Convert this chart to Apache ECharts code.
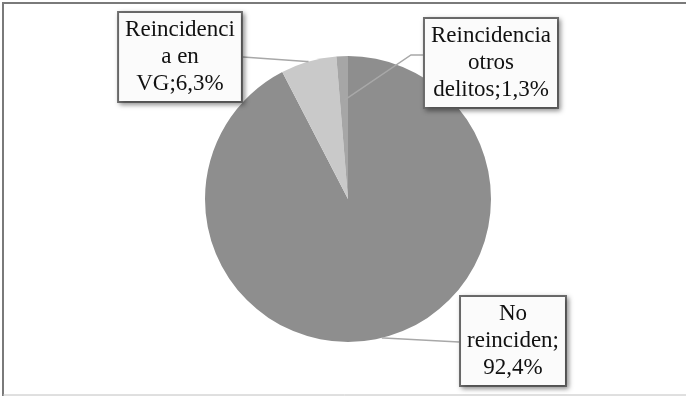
<!DOCTYPE html>
<html lang="es">
<head>
    <meta charset="UTF-8">
    <title>Reincidencia</title>
    <script src="https://cdn.jsdelivr.net/npm/echarts@6/dist/echarts.min.js"></script>
    <style>
        html, body { margin: 0; padding: 0; background: #fff; }
        #chart { width: 686px; height: 396px; }
    </style>
</head>
<body>
    <div id="chart"></div>
    <script>
        var categories = ['No reinciden', 'Reincidencia en VG', 'Reincidencia otros delitos'];
        var values = [92.4, 6.3, 1.3];
        var colors = ['#8e8e8e', '#c9c9c9', '#a6a6a6'];
        // text of each label as it is wrapped in the picture
        var labelTexts = [
            'No\nreinciden;\n92,4%',
            'Reincidenci\na en\nVG;6,3%',
            'Reincidencia\notros\ndelitos;1,3%'
        ];
        // where each label box sits (centre)
        var labelPos = [[513, 341], [180, 57], [491, 63]];

        var cx = 348, cy = 199, R = 143;

        var mychart = echarts.init(document.getElementById('chart'));

        var total = 0;
        for (var i = 0; i < values.length; i++) total += values[i];

        // point on a slice where its leader line starts (angle from data)
        function anchor(idx, r) {
            var start = 0;
            for (var k = 0; k < idx; k++) start += values[k];
            var mid = (start + values[idx] / 2) / total * 360;
            var a = (90 - mid) * Math.PI / 180;
            return [cx + r * Math.cos(a), cy - r * Math.sin(a)];
        }

        var slices = [], labelled = [];
        for (var i = 0; i < categories.length; i++) {
            slices.push({
                name: categories[i],
                value: values[i],
                itemStyle: { color: colors[i] }
            });
            labelled.push({
                name: categories[i],
                value: values[i],
                label: { formatter: labelTexts[i] }
            });
        }

        var option = {
            animation: false,
            graphic: [
                {
                    type: 'polyline',
                    shape: { points: [[3, 396], [3, 3], [686, 3]] },
                    style: { stroke: '#7a7a7a', lineWidth: 2, fill: null }
                },
                {
                    type: 'line',
                    shape: { x1: 3, y1: 395, x2: 686, y2: 395 },
                    style: { stroke: '#c0c0c0', lineWidth: 1 }
                }
            ],
            series: [{
                // the slices
                type: 'pie',
                z: 2,
                center: [cx, cy],
                radius: R,
                startAngle: 90,
                clockwise: true,
                silent: true,
                data: slices,
                label: { show: false },
                labelLine: { show: false }
            }, {
                // same pie, transparent, carrying labels and leader lines on top
                type: 'pie',
                z: 5,
                center: [cx, cy],
                radius: R,
                startAngle: 90,
                clockwise: true,
                silent: true,
                data: labelled,
                itemStyle: { color: 'rgba(0,0,0,0)' },
                label: {
                    show: true,
                    position: 'outside',
                    fontFamily: 'Liberation Serif',
                    fontSize: 23,
                    lineHeight: 27,
                    color: '#111',
                    align: 'center',
                    backgroundColor: '#fbfbfb',
                    borderColor: '#6e6e6e',
                    borderWidth: 2,
                    padding: [4, 6, 3, 6],
                    shadowColor: 'rgba(0,0,0,0.35)',
                    shadowBlur: 5,
                    shadowOffsetX: 2,
                    shadowOffsetY: 2
                },
                labelLine: {
                    show: true,
                    length: 20,
                    length2: 20,
                    lineStyle: { color: '#a8a8a8', width: 1.5 }
                },
                labelLayout: function (params) {
                    var i = params.dataIndex;
                    var p = labelPos[i];
                    var w = params.labelRect.width;
                    var pts;
                    if (i === 0) {
                        var a0 = anchor(0, R);
                        var e0 = [p[0] - w / 2, p[1] + 1];
                        pts = [a0, [a0[0] + 2, a0[1]], e0];
                    } else if (i === 1) {
                        var a1 = anchor(1, R);
                        var e1 = [p[0] + w / 2, p[1]];
                        pts = [a1, [a1[0] - 2, a1[1]], e1];
                    } else {
                        var a2 = anchor(2, R * 0.69);
                        var e2 = [p[0] - w / 2, p[1] - 8];
                        pts = [a2, [e2[0] - 12, e2[1]], e2];
                    }
                    return {
                        x: p[0],
                        y: p[1],
                        align: 'center',
                        verticalAlign: 'middle',
                        labelLinePoints: pts
                    };
                }
            }]
        };
        mychart.setOption(option);
    </script>
</body>
</html>
